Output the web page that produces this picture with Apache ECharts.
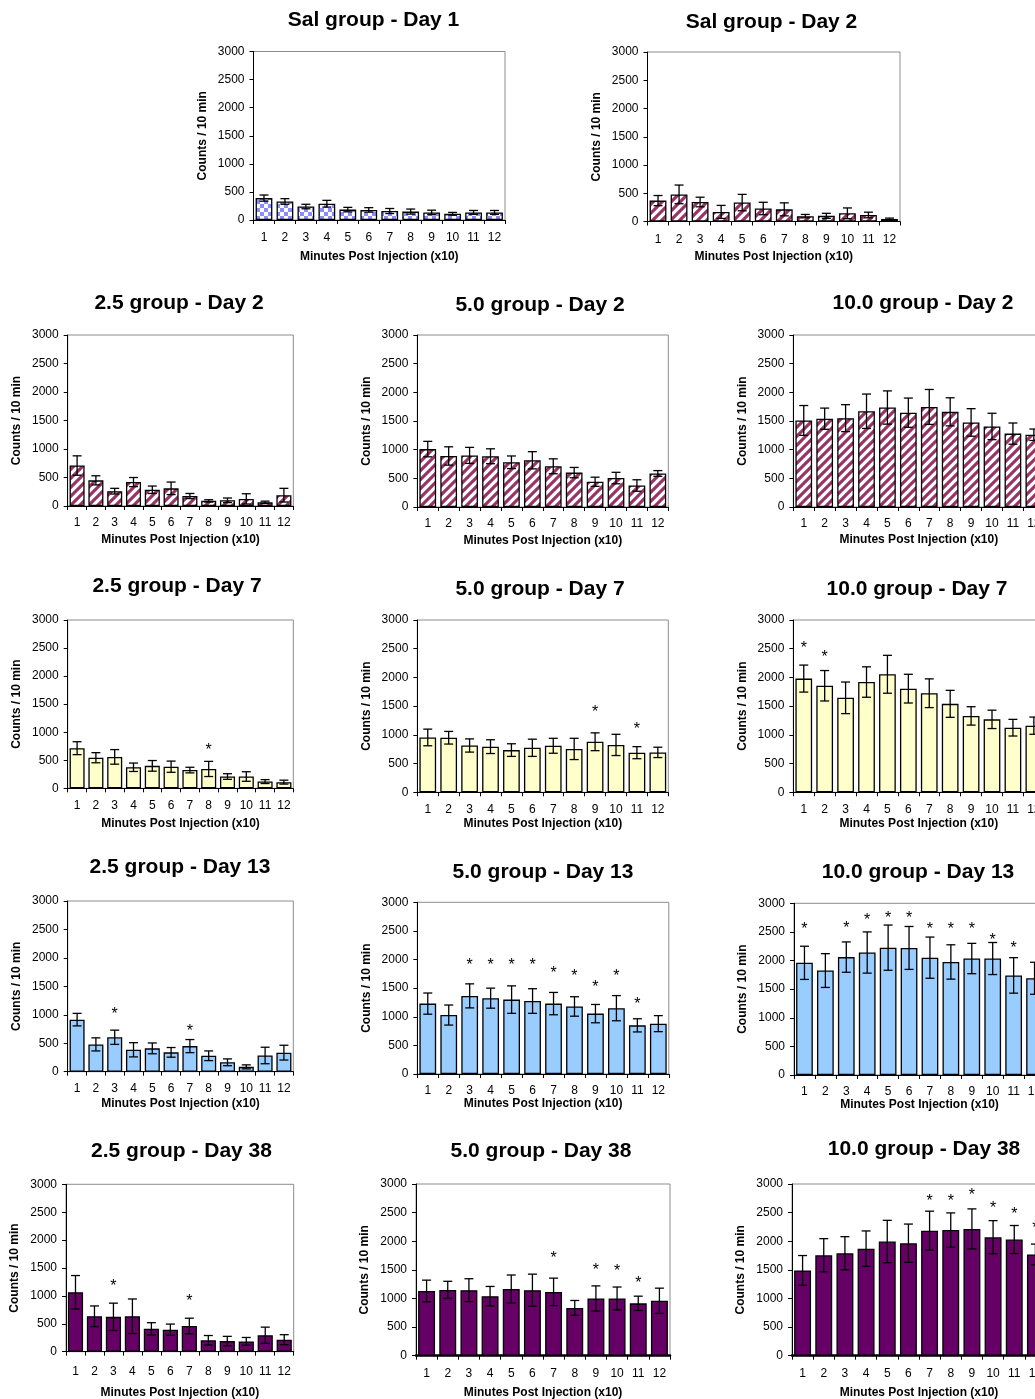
<!DOCTYPE html>
<html>
<head>
<meta charset="utf-8">
<script src="https://cdn.jsdelivr.net/npm/echarts@6/dist/echarts.min.js"></script>
<style>
  html, body { margin: 0; padding: 0; background: #fff; }
  #chart { width: 1035px; height: 1399px; }
</style>
</head>
<body>
<div id="chart"></div>
<script>
const FONT = '"Liberation Sans", Arial, Helvetica, sans-serif';

// x categories: 10-minute bins after injection
const minutes = ['1', '2', '3', '4', '5', '6', '7', '8', '9', '10', '11', '12'];

// Saline
const salDay1 = [390, 330, 240, 290, 185, 180, 160, 150, 135, 110, 135, 135];
const salDay1Sem = [55, 50, 40, 60, 40, 40, 45, 45, 40, 25, 35, 35];
const salDay2 = [370, 480, 345, 170, 335, 230, 215, 95, 100, 145, 115, 45];
const salDay2Sem = [90, 165, 85, 115, 145, 110, 115, 30, 45, 95, 50, 15];

// Day 2
const g25Day2 = [710, 450, 260, 420, 285, 310, 175, 90, 100, 125, 65, 190];
const g25Day2Sem = [170, 80, 50, 80, 65, 110, 45, 20, 40, 90, 20, 120];
const g50Day2 = [1010, 890, 900, 885, 780, 815, 710, 600, 440, 505, 375, 585];
const g50Day2Sem = [135, 160, 140, 130, 110, 150, 130, 90, 80, 100, 100, 50];
const g100Day2 = [1510, 1540, 1550, 1670, 1735, 1645, 1745, 1660, 1475, 1405, 1280, 1260];
const g100Day2Sem = [260, 185, 235, 300, 290, 255, 305, 245, 240, 230, 185, 100];

// Day 7
const g25Day7 = [715, 545, 560, 375, 400, 385, 325, 345, 210, 210, 120, 110];
const g25Day7Sem = [115, 90, 130, 75, 95, 100, 50, 135, 50, 85, 35, 35];
const g25Day7Star = [null, null, null, null, null, null, null, 740, null, null, null, null];
const g50Day7 = [955, 950, 815, 795, 735, 775, 810, 755, 880, 825, 690, 695];
const g50Day7Sem = [145, 110, 115, 120, 110, 150, 130, 185, 155, 185, 105, 90];
const g50Day7Star = [null, null, null, null, null, null, null, null, 1445, null, 1160, null];
const g100Day7 = [1980, 1855, 1645, 1920, 2055, 1805, 1725, 1540, 1330, 1270, 1125, 1160];
const g100Day7Sem = [235, 265, 275, 265, 330, 250, 250, 235, 160, 160, 145, 150];
const g100Day7Star = [2565, 2405, null, null, null, null, null, null, null, null, null, null];

// Day 13
const g25Day13 = [915, 480, 605, 385, 410, 340, 450, 280, 165, 85, 285, 335];
const g25Day13Sem = [110, 115, 125, 125, 95, 85, 115, 85, 60, 35, 145, 130];
const g25Day13Star = [null, null, 1065, null, null, null, 760, null, null, null, null, null];
const g50Day13 = [1230, 1030, 1365, 1325, 1300, 1275, 1230, 1180, 1055, 1150, 850, 880];
const g50Day13Sem = [185, 175, 210, 175, 240, 215, 195, 170, 160, 220, 115, 140];
const g50Day13Star = [null, null, 1950, 1950, 1950, 1950, 1820, 1760, 1570, 1760, 1280, null];
const g100Day13 = [1960, 1825, 2060, 2140, 2225, 2220, 2050, 1975, 2035, 2035, 1740, 1690];
const g100Day13Sem = [290, 295, 265, 360, 395, 375, 360, 300, 265, 280, 310, 280];
const g100Day13Star = [2595, null, 2625, 2765, 2800, 2800, 2595, 2595, 2595, 2410, 2265, null];

// Day 38
const g25Day38 = [1065, 635, 625, 635, 410, 395, 460, 205, 190, 185, 295, 215];
const g25Day38Sem = [300, 185, 245, 310, 110, 100, 140, 85, 85, 70, 145, 90];
const g25Day38Star = [null, null, 1225, null, null, null, 955, null, null, null, null, null];
const g50Day38 = [1130, 1150, 1145, 1040, 1165, 1145, 1115, 835, 1000, 1000, 915, 960];
const g50Day38Sem = [190, 150, 200, 170, 245, 280, 240, 130, 220, 200, 125, 220];
const g50Day38Star = [null, null, null, null, null, null, 1750, null, 1545, 1530, 1325, null];
const g100Day38 = [1490, 1755, 1790, 1870, 1995, 1965, 2185, 2195, 2215, 2070, 2030, 1770];
const g100Day38Sem = [260, 290, 290, 310, 370, 335, 340, 300, 350, 290, 245, 180];
const g100Day38Star = [null, null, null, null, null, null, 2755, 2755, 2860, 2630, 2535, 2280];

// Fill patterns
function checkerCanvas() {
  const s = 4;
  const c = document.createElement('canvas');
  c.width = c.height = 2 * s;
  const g = c.getContext('2d');
  g.fillStyle = '#ffffff';
  g.fillRect(0, 0, 2 * s, 2 * s);
  g.fillStyle = '#8c8cff';
  g.fillRect(0, 0, s, s);
  g.fillRect(s, s, s, s);
  return c;
}
function stripeCanvas() {
  const s = 9;
  const c = document.createElement('canvas');
  c.width = c.height = s;
  const g = c.getContext('2d');
  g.fillStyle = '#ffffff';
  g.fillRect(0, 0, s, s);
  g.strokeStyle = '#993366';
  g.lineWidth = 3.1;
  g.beginPath();
  g.moveTo(-s, 2 * s); g.lineTo(2 * s, -s);
  g.moveTo(-s, s); g.lineTo(s, -s);
  g.moveTo(0, 2 * s); g.lineTo(2 * s, 0);
  g.stroke();
  return c;
}
const fills = {
  checker: { image: checkerCanvas(), repeat: 'repeat' },
  stripe: { image: stripeCanvas(), repeat: 'repeat' },
  day7: '#ffffcc',
  day13: '#99ccff',
  day38: '#660066'
};

const panels = [
  { title: 'Sal group - Day 1', tx: 373.5, ty: 20.5, left: 253.5, top: 51.5, width: 251.5, height: 168.5, mean: salDay1, sem: salDay1Sem, star: null, fill: 'checker', xGap: 31, xMargin: 12 },
  { title: 'Sal group - Day 2', tx: 771.5, ty: 22.5, left: 647.5, top: 52, width: 252.5, height: 169.5, mean: salDay2, sem: salDay2Sem, star: null, fill: 'stripe', xGap: 29, xMargin: 12 },
  { title: '2.5 group - Day 2', tx: 179, ty: 304, left: 67.7, top: 335, width: 225.6, height: 171, mean: g25Day2, sem: g25Day2Sem, star: null, fill: 'stripe', xGap: 28 },
  { title: '5.0 group - Day 2', tx: 540, ty: 306, left: 417.3, top: 335, width: 251, height: 172, mean: g50Day2, sem: g50Day2Sem, star: null, fill: 'stripe', xGap: 28 },
  { title: '10.0 group - Day 2', tx: 923, ty: 304, left: 793.3, top: 335, width: 251, height: 172, mean: g100Day2, sem: g100Day2Sem, star: null, fill: 'stripe', xGap: 27 },
  { title: '2.5 group - Day 7', tx: 177, ty: 586.7, left: 67.7, top: 620, width: 225.6, height: 168.3, mean: g25Day7, sem: g25Day7Sem, star: g25Day7Star, fill: 'day7', xGap: 29 },
  { title: '5.0 group - Day 7', tx: 540, ty: 590, left: 417.3, top: 620, width: 251, height: 172.3, mean: g50Day7, sem: g50Day7Sem, star: g50Day7Star, fill: 'day7', xGap: 25 },
  { title: '10.0 group - Day 7', tx: 917, ty: 590, left: 793.3, top: 620, width: 251, height: 172.3, mean: g100Day7, sem: g100Day7Sem, star: g100Day7Star, fill: 'day7', xGap: 25 },
  { title: '2.5 group - Day 13', tx: 180, ty: 868, left: 67.7, top: 901, width: 225.6, height: 170.7, mean: g25Day13, sem: g25Day13Sem, star: g25Day13Star, fill: 'day13', xGap: 25.6 },
  { title: '5.0 group - Day 13', tx: 543, ty: 873, left: 417.3, top: 902.3, width: 251.5, height: 171.7, mean: g50Day13, sem: g50Day13Sem, star: g50Day13Star, fill: 'day13', xGap: 24 },
  { title: '10.0 group - Day 13', tx: 918, ty: 873, left: 794, top: 903.3, width: 251, height: 171.7, mean: g100Day13, sem: g100Day13Sem, star: g100Day13Star, fill: 'day13', xGap: 22 },
  { title: '2.5 group - Day 38', tx: 181.5, ty: 1152, left: 66, top: 1184.3, width: 227.7, height: 167.4, mean: g25Day38, sem: g25Day38Sem, star: g25Day38Star, fill: 'day38', xGap: 35, xMargin: 14 },
  { title: '5.0 group - Day 38', tx: 541, ty: 1151.7, left: 416, top: 1184, width: 254, height: 171.7, mean: g50Day38, sem: g50Day38Sem, star: g50Day38Star, fill: 'day38', xGap: 31, xMargin: 12, base: 2.5 },
  { title: '10.0 group - Day 38', tx: 924, ty: 1150, left: 792, top: 1184, width: 254, height: 171.7, mean: g100Day38, sem: g100Day38Sem, star: g100Day38Star, fill: 'day38', xGap: 31, xMargin: 12, base: 2.5 }
];

// mean +/- SEM whiskers with caps
function renderErr(params, api) {
  const x = api.value(0), m = api.value(1), e = api.value(2);
  const hi = api.coord([x, m + e]);
  const lo = api.coord([x, Math.max(0, m - e)]);
  const w = 4.5;
  const st = { stroke: '#000', lineWidth: 1.3 };
  return {
    type: 'group',
    children: [
      { type: 'line', shape: { x1: hi[0], y1: hi[1], x2: lo[0], y2: lo[1] }, style: st },
      { type: 'line', shape: { x1: hi[0] - w, y1: hi[1], x2: hi[0] + w, y2: hi[1] }, style: st },
      { type: 'line', shape: { x1: lo[0] - w, y1: lo[1], x2: lo[0] + w, y2: lo[1] }, style: st }
    ]
  };
}

// significance markers
function renderStar(params, api) {
  const p = api.coord([api.value(0), api.value(1)]);
  return {
    type: 'text',
    x: p[0],
    y: p[1] + 3.5,
    style: { text: '*', fill: '#000', font: '16px ' + FONT, align: 'center', verticalAlign: 'middle' }
  };
}

const option = {
  animation: false,
  backgroundColor: '#ffffff',
  title: [], grid: [], xAxis: [], yAxis: [], series: []
};

panels.forEach((p, k) => {
  option.title.push({
    text: p.title,
    left: p.tx,
    top: p.ty - 11,
    textAlign: 'center',
    padding: 0,
    textStyle: { fontFamily: FONT, fontSize: 21, fontWeight: 'bold', color: '#000' }
  });
  option.grid.push({
    left: p.left, top: p.top, width: p.width, height: p.height,
    show: true, borderColor: '#8c8c8c', borderWidth: 1, backgroundColor: 'transparent',
    containLabel: false, outerBoundsMode: 'none'
  });
  option.xAxis.push({
    type: 'category', gridIndex: k, data: minutes,
    name: 'Minutes Post Injection (x10)', nameLocation: 'middle', nameGap: p.xGap,
    nameTextStyle: { fontFamily: FONT, fontSize: 12, fontWeight: 'bold', color: '#000' },
    axisLine: { lineStyle: { color: '#000', width: p.base || 1 } },
    axisTick: { show: true, length: 4, interval: 0, lineStyle: { color: '#000' } },
    axisLabel: { interval: 0, margin: p.xMargin || 11, fontFamily: FONT, fontSize: 12, color: '#000' },
    splitLine: { show: false }
  });
  option.yAxis.push({
    type: 'value', gridIndex: k, min: 0, max: 3000, interval: 500,
    name: 'Counts / 10 min', nameLocation: 'middle', nameGap: 45,
    nameTextStyle: { fontFamily: FONT, fontSize: 12, fontWeight: 'bold', color: '#000' },
    axisLine: { show: true, lineStyle: { color: '#000', width: 1 } },
    axisTick: { show: true, length: 4, lineStyle: { color: '#000' } },
    axisLabel: { margin: 9, fontFamily: FONT, fontSize: 12, color: '#000', formatter: v => String(v) },
    splitLine: { show: false }
  });
  option.series.push({
    type: 'bar', xAxisIndex: k, yAxisIndex: k, data: p.mean,
    barCategoryGap: '20%', silent: true,
    itemStyle: { color: fills[p.fill], borderColor: '#000', borderWidth: 1.3 }
  });
  option.series.push({
    type: 'custom', xAxisIndex: k, yAxisIndex: k, z: 3, silent: true,
    data: p.mean.map((m, i) => [i, m, p.sem[i]]),
    renderItem: renderErr
  });
  if (p.star) {
    option.series.push({
      type: 'custom', xAxisIndex: k, yAxisIndex: k, z: 4, silent: true,
      data: p.star.map((v, i) => [i, v]).filter(d => d[1] != null),
      renderItem: renderStar
    });
  }
});

const chart = echarts.init(document.getElementById('chart'), null, { renderer: 'canvas' });
chart.setOption(option);
</script>
</body>
</html>
